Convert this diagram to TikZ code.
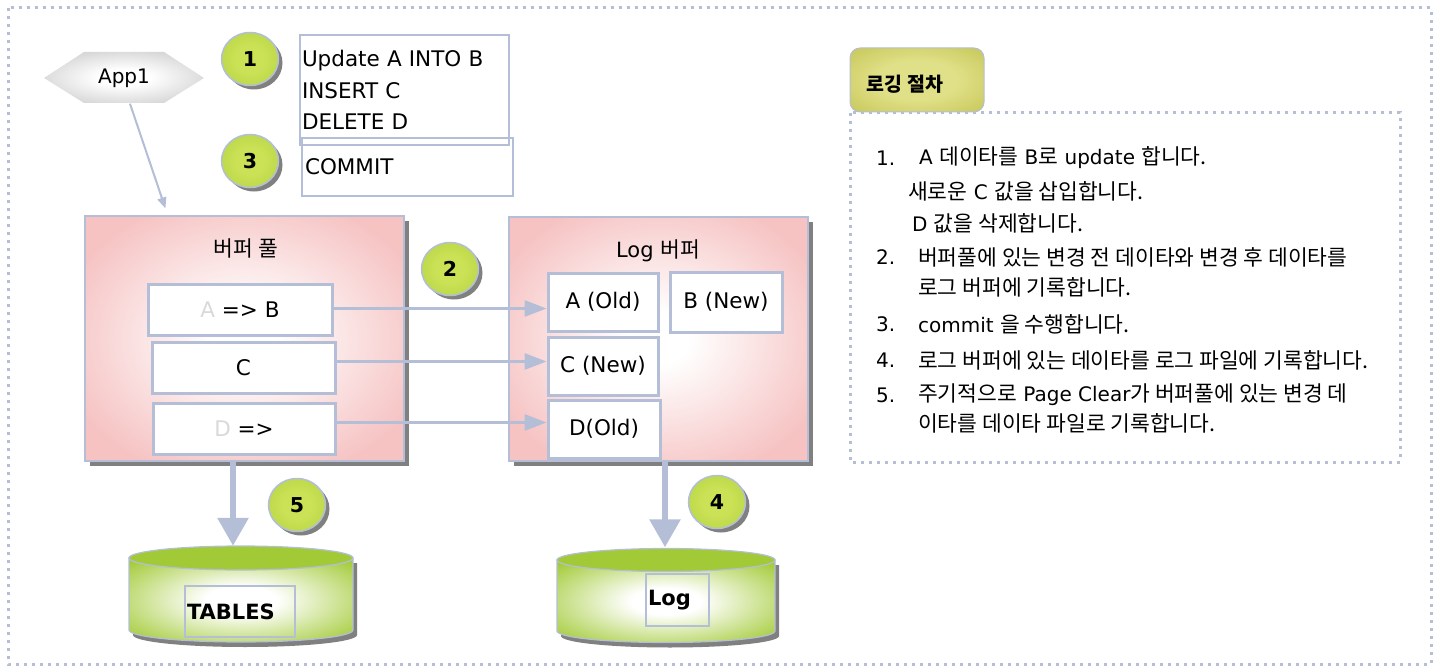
\documentclass[tikz,border=0pt]{standalone}
\usepackage{fontspec}
\setmainfont{DejaVu Sans}
\newfontfamily\kr{Noto Sans CJK KR}
\newcommand\K[1]{{\kr\fontsize{21.5}{24}\selectfont #1}}
\usetikzlibrary{shapes.geometric,arrows.meta,shadows,calc}
\definecolor{lnc}{RGB}{180,190,215}
\definecolor{framec}{RGB}{182,190,212}
\definecolor{pinkc}{RGB}{246,194,194}
\definecolor{greenc}{RGB}{162,202,54}
\definecolor{lgreen}{RGB}{204,226,86}
\definecolor{grayc}{RGB}{168,168,168}
\definecolor{olivec}{RGB}{182,182,58}
\definecolor{lolive}{RGB}{224,224,136}
\definecolor{shadc}{RGB}{128,128,128}
\pgfdeclareradialshading{pinkglow}{\pgfpointorigin}{color(0bp)=(white); color(5bp)=(white); color(30bp)=(pinkc); color(50bp)=(pinkc)}
\pgfdeclareradialshading{greenglow}{\pgfpointorigin}{color(0bp)=(white); color(8bp)=(white); color(34bp)=(greenc); color(50bp)=(greenc)}
\pgfdeclareradialshading{circglow}{\pgfpointorigin}{color(0bp)=(lgreen); color(12bp)=(lgreen); color(50bp)=(greenc)}
\pgfdeclareradialshading{grayglow}{\pgfpointorigin}{color(0bp)=(white); color(8bp)=(white); color(50bp)=(grayc)}
\pgfdeclareradialshading{oliveglow}{\pgfpointorigin}{color(0bp)=(lolive); color(15bp)=(lolive); color(50bp)=(olivec)}
\tikzset{
  num/.style={ellipse, minimum width=57pt, minimum height=53pt, shading=circglow, draw=lnc, line width=1.5pt,
     font=\fontsize{20.5}{24}\selectfont\bfseries, inner sep=0pt,
     drop shadow={shadow xshift=4pt, shadow yshift=-4pt, fill=shadc, opacity=1}},
  txtbox/.style={draw=lnc, line width=1.5pt, align=left, inner xsep=2pt, inner ysep=0pt,
     font=\fontsize{21.5}{31.5}\selectfont},
  buf/.style={draw=lnc, line width=1.2pt, shading=pinkglow,
     drop shadow={shadow xshift=5pt, shadow yshift=-5pt, fill=shadc, opacity=1}},
  cell/.style={draw=lnc, line width=3pt, fill=white, inner sep=0pt, font=\fontsize{21.5}{24}\selectfont},
  harrow/.style={draw=lnc, line width=3pt, -{Triangle[length=22pt,width=16pt]}},
  varrow/.style={draw=lnc, line width=6pt, -{Triangle[length=28pt,width=30pt]}},
  inrect/.style={draw=lnc, line width=1.2pt, inner ysep=0pt, inner xsep=2pt, align=left,
     font=\fontsize{21}{24}\selectfont\bfseries},
  lst/.style={anchor=west, inner sep=0pt, font=\fontsize{20}{22}\selectfont},
  dotted frame/.style={draw=framec, line width=3pt, dash pattern=on 3pt off 5pt},
  title/.style={font=\fontsize{21}{24}\selectfont},
}
\begin{document}
\begin{tikzpicture}[x=1pt,y=-1pt]
\useasboundingbox (0,0) rectangle (1438,666);
% outer frame
\path[dotted frame] (8,8) rectangle (1431,664);

% App1 hexagon
\path[shading=grayglow] (44,78) -- (84,52) -- (164,52) -- (204,78) -- (164,103) -- (84,103) -- cycle;
\node[minimum width=80pt, minimum height=51pt, inner sep=0pt, font=\fontsize{20}{22}\selectfont] (app) at (124,78) {App1};

% statements
\node[num] (c1) at (250,59) {1};
\node[txtbox, text width=205pt, minimum height=110pt] (stm) at (404.5,90) {Update A INTO B\\INSERT C\\DELETE D};
\node[num] (c3) at (250,161) {3};
\node[txtbox, text width=205pt, minimum height=58pt, inner xsep=3pt] (cmt) at (407.5,167) {COMMIT};

% buffer pool
\node[buf, minimum width=319pt, minimum height=245pt] (pool) at (244.5,338.5) {};
\node[title] (pooltitle) at (246,248) {\K{버퍼 풀}};
\node[cell, minimum width=184pt, minimum height=51pt] (ab) at (240,309.5) {\textcolor{black!15}{A} => B};
\node[cell, minimum width=183pt, minimum height=51pt] (cc) at (243.5,367.5) {C};
\node[cell, minimum width=182pt, minimum height=51pt] (dd) at (244,428.5) {\textcolor{black!15}{D} =>};

% log buffer
\node[buf, minimum width=299pt, minimum height=244pt] (logb) at (658.5,339) {};
\node[title] (logtitle) at (658,251) {Log \K{버퍼}};
\node[cell, minimum width=110pt, minimum height=58pt] (aold) at (603,302) {A (Old)};
\node[cell, minimum width=112pt, minimum height=60pt] (bnew) at (726,302) {B (New)};
\node[cell, minimum width=110pt, minimum height=58pt] (cnew) at (603,366) {C (New)};
\node[cell, minimum width=112pt, minimum height=58pt] (dold) at (604,429) {D(Old)};

\node[num] (c2) at (450,269) {2};

% connectors
\draw[lnc, line width=2pt, -{Triangle[length=11pt,width=9pt]}] ([xshift=6pt]app.south) -- ([xshift=81pt,yshift=7pt]pool.north west);
\draw[harrow] ([yshift=1pt]ab.east) -- ([yshift=1pt]ab.east -| aold.west);
\draw[harrow] ([yshift=6pt]cc.east) -- ([yshift=6pt]cc.east -| cnew.west);
\draw[harrow] ([yshift=6pt]dd.east) -- ([yshift=6pt]dd.east -| dold.west);

% cylinders
\node[minimum width=224pt, minimum height=96pt, inner sep=0pt] (tabcyl) at (241,594) {};
\node[minimum width=218pt, minimum height=94pt, inner sep=0pt] (logcyl) at (666,594.5) {};

\fill[shadc] (133,563) -- (133,635) arc[start angle=180,end angle=360,x radius=112pt,y radius=12pt] -- (357,563) -- cycle;
\path[shading=greenglow, draw=lnc, line width=1.2pt] (129,558) -- (129,630) arc[start angle=180,end angle=360,x radius=112pt,y radius=12pt] -- (353,558) -- cycle;
\draw[lnc, line width=1.2pt, fill=greenc] (241,558) ellipse[x radius=112pt, y radius=12pt];
\node[inrect, text width=106pt, minimum height=51pt] (tabtxt) at (240,611.5) {TABLES};

\fill[shadc] (561,565) -- (561,636) arc[start angle=180,end angle=360,x radius=109pt,y radius=11.5pt] -- (779,565) -- cycle;
\path[shading=greenglow, draw=lnc, line width=1.2pt] (557,560) -- (557,631) arc[start angle=180,end angle=360,x radius=109pt,y radius=11.5pt] -- (775,560) -- cycle;
\draw[lnc, line width=1.2pt, fill=greenc] (666,560) ellipse[x radius=109pt, y radius=11.5pt];
\node[inrect, text width=59pt, minimum height=52pt] (logtxt) at (677.5,600) {Log};

\draw[varrow] ([xshift=-11.5pt]pool.south) -- ([xshift=-8pt]tabcyl.north);
\draw[varrow] ([xshift=6.5pt]logb.south) -- ([xshift=-1pt]logcyl.north);

\node[num] (c5) at (297,505) {5};
\node[num] (c4) at (717,502) {4};

% right panel
\path[dotted frame] (850,113) rectangle (1400,462);
\path[shading=oliveglow, draw=lnc, line width=1pt, rounded corners=10pt] (850,48) rectangle (984,112);
\node[font=\fontsize{19.5}{22}\selectfont\kr\bfseries] (tab) at (905,84) {로깅 절차};

\node[lst] (n1) at (876,158) {1.};
\node[lst] (t1) at (919,158) {A \K{데이타를} B\K{로} update \K{합니다.}};
\node[lst] (t1b) at (908,191) {\K{새로운} C \K{값을 삽입합니다.}};
\node[lst] (t1c) at (912,223) {D \K{값을 삭제합니다.}};
\node[lst] (n2) at (876,257) {2.};
\node[lst] (t2) at (918,257) {\K{버퍼풀에 있는 변경 전 데이타와 변경 후 데이타를}};
\node[lst] (t2b) at (918,287) {\K{로그 버퍼에 기록합니다.}};
\node[lst] (n3) at (876,324) {3.};
\node[lst] (t3) at (918,324) {commit \K{을 수행합니다.}};
\node[lst] (n4) at (876,360) {4.};
\node[lst] (t4) at (918,360) {\K{로그 버퍼에 있는 데이타를 로그 파일에 기록합니다.}};
\node[lst] (n5) at (876,395) {5.};
\node[lst] (t5) at (918,395) {\K{주기적으로} Page Clear\K{가 버퍼풀에 있는 변경 데}};
\node[lst] (t5b) at (918,423) {\K{이타를 데이타 파일로 기록합니다.}};
\end{tikzpicture}
\end{document}
